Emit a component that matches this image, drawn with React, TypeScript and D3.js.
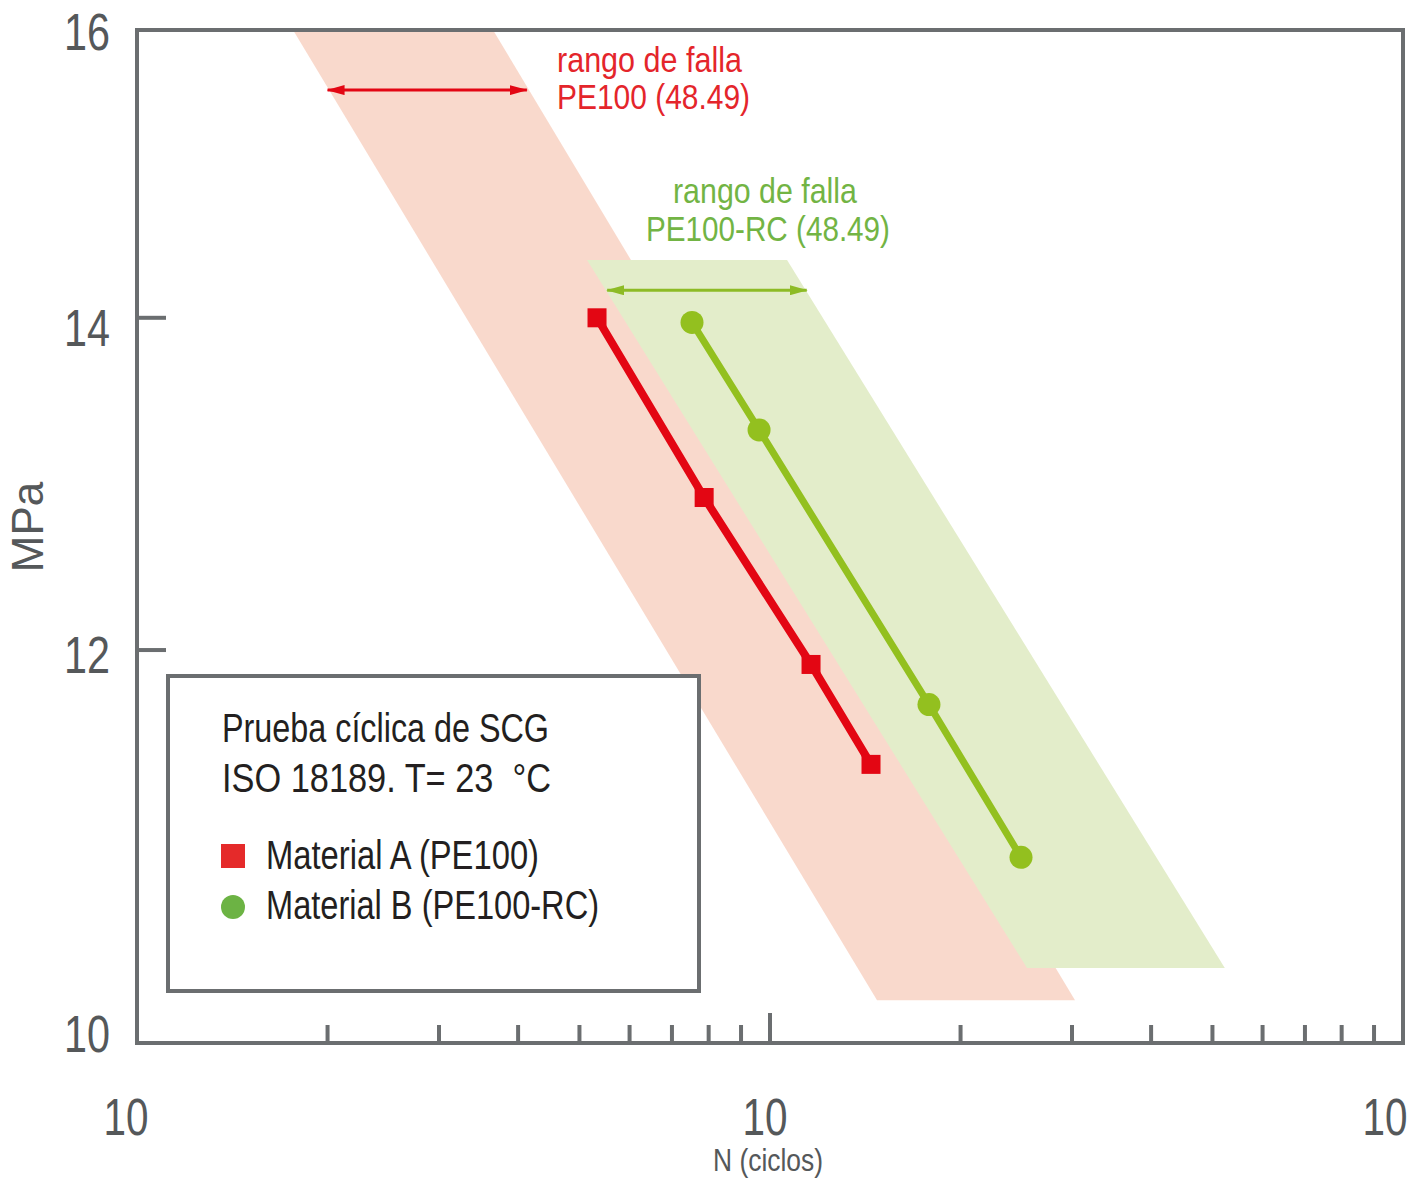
import React from 'react'
import * as d3 from 'd3'

// N axis spans two decades (the exponents of the "10" labels are lost in the original)
const xDomain = [1, 100]
const yDomain = [10, 16]
const yTicks = [10, 12, 14, 16]
const xMajor = [1, 10, 100]
const xMinor = [2, 3, 4, 5, 6, 7, 8, 9, 20, 30, 40, 50, 60, 70, 80, 90]

// Material A (PE100)
const aN = [5.33, 7.87, 11.61, 14.44]
const aMPa = [14.0, 12.88, 11.92, 11.38]
// Material B (PE100-RC)
const bN = [7.53, 9.61, 17.83, 24.92]
const bMPa = [13.97, 13.29, 11.7, 10.9]

// failure ranges (corners)
const bandAN = [1.764, 3.651, 30.33, 14.76]
const bandAMPa = [16, 16, 10.2, 10.2]
const bandBN = [5.14, 10.64, 52.3, 25.47]
const bandBMPa = [14.38, 14.38, 10.354, 10.354]

// range arrows
const arrowAN = [2.0, 4.13]
const arrowAMPa = 15.56
const arrowBN = [5.53, 11.43]
const arrowBMPa = 14.18

const W = 1423
const H = 1180
const m = { left: 137, right: 20, top: 30, bottom: 137 }

// no condensed face installed, so texts get squeezed with textLength
const font = "'Liberation Sans', Arial, sans-serif"
const axisGray = '#6b6e70'
const labelGray = '#55585a'

const yNudge: Record<number, number> = { 16: 2, 14: 10, 12: 5, 10: -9 }
const xNudge = [-11, -5, -18]

function T(props: { x: number; y: number; w: number; size: number; fill: string; anchor?: string; children: string }) {
  return (
    <text
      x={props.x}
      y={props.y}
      textLength={props.w}
      lengthAdjust="spacingAndGlyphs"
      textAnchor={props.anchor || 'start'}
      fontFamily={font}
      fontSize={props.size}
      fill={props.fill}
      style={{ whiteSpace: 'pre' }}
    >
      {props.children}
    </text>
  )
}

export default function App() {
  const x = d3.scaleLog().domain(xDomain).range([m.left, W - m.right])
  const y = d3.scaleLog().domain(yDomain).range([H - m.bottom, m.top])

  const band = (ns: number[], ps: number[]) =>
    d3.line<number>().x((d, i) => x(ns[i])).y((d, i) => y(ps[i])).curve(d3.curveLinearClosed)(ns)
  const series = (ns: number[], ps: number[]) =>
    d3.line<number>().x((d, i) => x(ns[i])).y((d, i) => y(ps[i]))(ns)

  const x0 = m.left
  const x1 = W - m.right
  const y0 = H - m.bottom
  const y1 = m.top

  return (
    <svg width={W} height={H} style={{ position: 'absolute', left: 0, top: 0, background: '#fff' }}>
      <defs>
        <marker id="ar" viewBox="0 0 18 10" refX="17" refY="5" markerWidth="18" markerHeight="10" markerUnits="userSpaceOnUse" orient="auto-start-reverse">
          <path d="M0,0 L18,5 L0,10 z" fill="#e30613" />
        </marker>
        <marker id="ag" viewBox="0 0 18 10" refX="17" refY="5" markerWidth="18" markerHeight="10" markerUnits="userSpaceOnUse" orient="auto-start-reverse">
          <path d="M0,0 L18,5 L0,10 z" fill="#8dbb25" />
        </marker>
      </defs>

      <path d={band(bandAN, bandAMPa) || ''} fill="#f9d9cc" />
      <path d={band(bandBN, bandBMPa) || ''} fill="#e3edca" />

      {/* legend box */}
      <rect x={168} y={676} width={531} height={315} fill="#fff" stroke={axisGray} strokeWidth={4} />
      <T x={222} y={742} w={327} size={40} fill="#231f20">Prueba cíclica de SCG</T>
      <T x={222} y={792} w={329} size={40} fill="#231f20">{'ISO 18189. T= 23  °C'}</T>
      <T x={266} y={869} w={273} size={40} fill="#231f20">Material A (PE100)</T>
      <T x={266} y={919} w={333} size={40} fill="#231f20">Material B (PE100-RC)</T>
      <rect x={221} y={844} width={24} height={24} fill="#e52a2a" />
      <circle cx={233} cy={907} r={12} fill="#6cb344" />

      {/* frame and ticks */}
      <rect x={x0} y={y1} width={x1 - x0} height={y0 - y1} fill="none" stroke={axisGray} strokeWidth={4} />
      {yTicks.filter(v => v > 10 && v < 16).map(v => (
        <line key={v} x1={x0} x2={x0 + 29} y1={y(v)} y2={y(v)} stroke={axisGray} strokeWidth={4} />
      ))}
      {xMinor.map(v => (
        <line key={v} x1={x(v)} x2={x(v)} y1={y0} y2={y0 - 18} stroke={axisGray} strokeWidth={4} />
      ))}
      {xMajor.map(v => (
        <line key={v} x1={x(v)} x2={x(v)} y1={y0} y2={y0 - 30} stroke={axisGray} strokeWidth={4} />
      ))}

      {yTicks.map(v => (
        <T key={v} x={110} y={y(v) + yNudge[v] + 18} w={46} size={51} fill={labelGray} anchor="end">{String(v)}</T>
      ))}
      {xMajor.map((v, i) => (
        <T key={v} x={x(v) + xNudge[i]} y={1135} w={45} size={51} fill={labelGray} anchor="middle">10</T>
      ))}
      <T x={768} y={1171} w={110} size={31} fill={labelGray} anchor="middle">N (ciclos)</T>
      <text transform="translate(43,527) rotate(-90)" textAnchor="middle" fontFamily={font} fontSize={44} fill={labelGray}>MPa</text>

      {/* range arrows and labels */}
      <line x1={x(arrowAN[0])} x2={x(arrowAN[1])} y1={y(arrowAMPa)} y2={y(arrowAMPa)} stroke="#e30613" strokeWidth={3} markerStart="url(#ar)" markerEnd="url(#ar)" />
      <line x1={x(arrowBN[0])} x2={x(arrowBN[1])} y1={y(arrowBMPa)} y2={y(arrowBMPa)} stroke="#8dbb25" strokeWidth={3} markerStart="url(#ag)" markerEnd="url(#ag)" />
      <T x={557} y={72} w={185} size={35} fill="#e4252b">rango de falla</T>
      <T x={557} y={109} w={193} size={35} fill="#e4252b">PE100 (48.49)</T>
      <T x={765} y={203} w={184} size={35} fill="#72b444" anchor="middle">rango de falla</T>
      <T x={768} y={241} w={244} size={35} fill="#72b444" anchor="middle">PE100-RC (48.49)</T>

      {/* series */}
      <path d={series(aN, aMPa) || ''} fill="none" stroke="#e30613" strokeWidth={8} />
      {aN.map((n, i) => (
        <rect key={n} x={x(n) - 9.5} y={y(aMPa[i]) - 9.5} width={19} height={19} fill="#e30613" />
      ))}
      <path d={series(bN, bMPa) || ''} fill="none" stroke="#93c01f" strokeWidth={7} />
      {bN.map((n, i) => (
        <circle key={n} cx={x(n)} cy={y(bMPa[i])} r={11.5} fill="#93c01f" />
      ))}
    </svg>
  )
}
